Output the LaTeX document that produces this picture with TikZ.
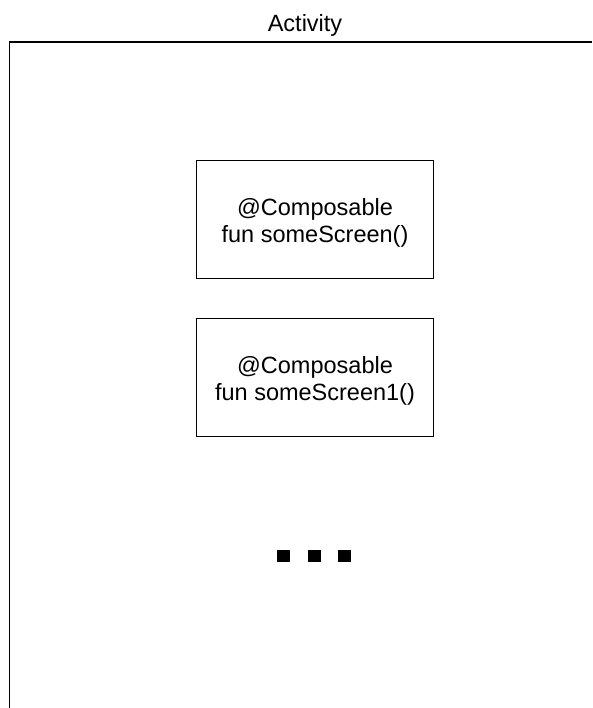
\documentclass[tikz,border=0pt]{standalone}
\usepackage{fontspec}
\setmainfont{Liberation Sans}
\begin{document}
\begin{tikzpicture}[x=1pt,y=-1pt,
  txt/.style={font=\fontsize{23.5}{26.5}\selectfont, align=center, inner sep=0pt},
  compbox/.style={draw=black, line width=1.3pt, minimum width=237pt, minimum height=118pt, inner sep=0pt},
  dot/.style={fill=black, minimum width=12.5pt, minimum height=12.5pt, inner sep=0pt}]
\useasboundingbox (0,0) rectangle (592,708);
\fill[white] (0,0) rectangle (592,708);
\draw[line width=1.6pt] (9.5,708) coordinate (fb) -- (9.5,42) coordinate (fc) -- (592,42) coordinate (fr);
\node[txt, anchor=base] (title) at (305,31.5) {Activity};
\node[compbox, label={[txt, yshift=-3pt]center:{@Composable\\fun someScreen()}}] (s1) at (315,219.8) {};
\node[compbox, label={[txt, yshift=-3pt]center:{@Composable\\fun someScreen1()}}] (s2) at (315,377.8) {};
\node[dot] (d1) at (283.5,556) {};
\node[dot] (d2) at (314.5,556) {};
\node[dot] (d3) at (344.5,556) {};
\end{tikzpicture}
\end{document}
